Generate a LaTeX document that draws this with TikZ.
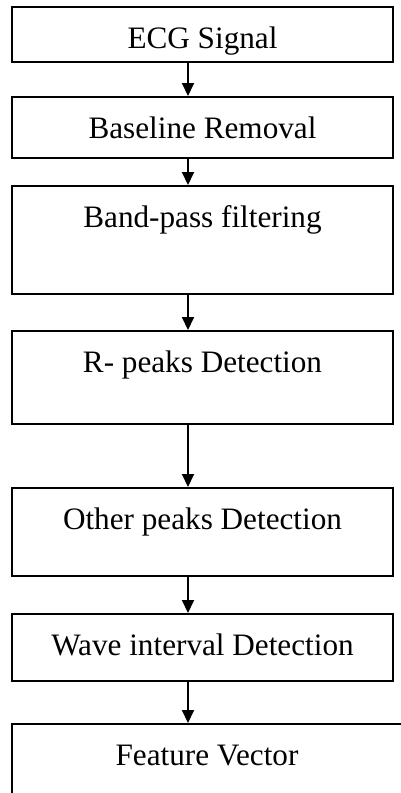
\documentclass[tikz,border=0pt]{standalone}
\usepackage{fontspec}
\setmainfont{Liberation Serif}
\usetikzlibrary{arrows.meta}
\tikzset{
  stepbox/.style={draw,line width=1pt,inner sep=0pt,anchor=north,
    minimum width=190.5pt,text height=20.5pt,
    font=\fontsize{15.6pt}{18pt}\selectfont},
  flow/.style={->,line width=1pt}
}
\begin{document}
\begin{tikzpicture}[x=0.5pt,y=-0.5pt,>={Triangle[length=6.5pt,width=6pt]}]
  \clip[use as bounding box] (0,0) rectangle (401,793);
  \coordinate (ax) at (188,0);
  % processing steps
  \node[stepbox,text depth=7pt] (ecg) at (202.5,6) {ECG Signal};
  \node[stepbox,text depth=10pt] (base) at (202.5,96) {Baseline Removal};
  \node[stepbox,text depth=33.5pt] (bpf) at (202.5,185) {Band-pass filtering};
  \node[stepbox,text depth=26pt] (rpk) at (202.5,330) {R- peaks Detection};
  \node[stepbox,text depth=23.5pt] (opk) at (202.5,487) {Other peaks Detection};
  \node[stepbox,text depth=13pt] (wave) at (202.5,613) {Wave interval Detection};
  \node[stepbox,text depth=40pt,minimum width=195pt] (feat) at (207,723) {Feature Vector};
  % arrows
  \draw[flow] (ecg.south -| ax) -- (base.north -| ax);
  \draw[flow] (base.south -| ax) -- (bpf.north -| ax);
  \draw[flow] (bpf.south -| ax) -- (rpk.north -| ax);
  \draw[flow] (rpk.south -| ax) -- (opk.north -| ax);
  \draw[flow] (opk.south -| ax) -- (wave.north -| ax);
  \draw[flow] (wave.south -| ax) -- (feat.north -| ax);
\end{tikzpicture}
\end{document}
